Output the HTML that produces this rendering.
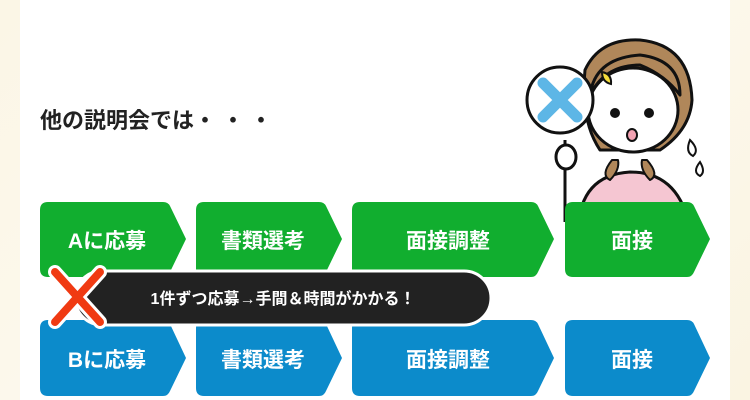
<!DOCTYPE html>
<html style="overflow:hidden;height:400px"><head><meta charset="utf-8"><style>
html,body{margin:0;width:750px;height:400px;overflow:hidden}
body{background:linear-gradient(135deg,#fbf6e6,#fdf9ee 50%,#faf4e2);font-family:"Liberation Sans","Noto Sans CJK JP",sans-serif;position:relative}
.card{position:absolute;left:20px;top:0;width:710px;height:400px;background:#fff}
svg{position:absolute;left:0;top:0}
</style></head><body>
<div class="card"></div>
<svg width="750" height="400" viewBox="0 0 750 400" font-family="Liberation Sans, Noto Sans CJK JP, sans-serif">
<text x="40" y="128" font-size="22" font-weight="bold" fill="#222">他の説明会では<tspan letter-spacing="6">・・・</tspan></text>
<g stroke="#111" stroke-width="3" stroke-linejoin="round">
<path d="M578 230 Q580 175 630 172 Q680 172 690 230Z" fill="#f5c6d2"/>
<path d="M585 70 Q600 38 640 40 Q690 45 692 100 Q690 130 660 150 L600 150 Q580 120 585 70Z" fill="#b0875a"/>
<ellipse cx="633" cy="110" rx="45" ry="42" fill="#fff"/>
<path d="M590 95 Q605 65 640 65 Q665 75 680 95 Q680 60 640 55 Q595 58 590 95Z" fill="#b0875a"/>
<path d="M612 160 Q600 175 610 180 Q620 170 618 160Z" fill="#b0875a" stroke-width="2"/>
<path d="M647 160 Q660 175 650 180 Q640 170 642 160Z" fill="#b0875a" stroke-width="2"/>
<line x1="565" y1="140" x2="565" y2="222"/>
<circle cx="560" cy="100" r="33" fill="#fff"/>
<ellipse cx="566" cy="157" rx="10" ry="12" fill="#fff"/>
</g>
<path d="M543 83 L577 117 M577 83 L543 117" stroke="#5db6e6" stroke-width="11" stroke-linecap="round"/>
<path d="M602 72 Q612 74 611 84 Q602 82 602 72Z" fill="#f4dc3b" stroke="#111" stroke-width="2"/>
<circle cx="615" cy="113" r="5" fill="#111"/><circle cx="649" cy="113" r="5" fill="#111"/>
<ellipse cx="632" cy="135" rx="5" ry="6" fill="#f4a3b3" stroke="#111" stroke-width="2"/>
<path d="M690 140 Q700 150 693 156 Q685 152 690 140Z M700 162 Q706 172 700 176 Q692 172 700 162Z" fill="#fff" stroke="#111" stroke-width="2"/>
<g fill="#11ae2f">
<path d="M48 202 H163 Q168 202 170 206 L186 239 L170 272 Q168 277 163 277 H48 Q40 277 40 269 V210 Q40 202 48 202Z"/>
<path d="M204 202 H319 Q324 202 326 206 L342 239 L326 272 Q324 277 319 277 H204 Q196 277 196 269 V210 Q196 202 204 202Z"/>
<path d="M360 202 H531 Q536 202 538 206 L554 239 L538 272 Q536 277 531 277 H360 Q352 277 352 269 V210 Q352 202 360 202Z"/>
<path d="M573 202 H687 Q692 202 694 206 L710 239 L694 272 Q692 277 687 277 H573 Q565 277 565 269 V210 Q565 202 573 202Z"/>
</g>
<g fill="#0c8bcb">
<path d="M48 320 H163 Q168 320 170 324 L186 358 L170 391 Q168 396 163 396 H48 Q40 396 40 388 V328 Q40 320 48 320Z"/>
<path d="M204 320 H319 Q324 320 326 324 L342 358 L326 391 Q324 396 319 396 H204 Q196 396 196 388 V328 Q196 320 204 320Z"/>
<path d="M360 320 H531 Q536 320 538 324 L554 358 L538 391 Q536 396 531 396 H360 Q352 396 352 388 V328 Q352 320 360 320Z"/>
<path d="M573 320 H687 Q692 320 694 324 L710 358 L694 391 Q692 396 687 396 H573 Q565 396 565 388 V328 Q565 320 573 320Z"/>
</g>
<g fill="#fff" font-size="21" font-weight="bold" text-anchor="middle">
<text x="107" y="248">Aに応募</text><text x="263" y="248">書類選考</text><text x="448" y="248">面接調整</text><text x="632" y="248">面接</text>
<text x="107" y="367">Bに応募</text><text x="263" y="367">書類選考</text><text x="448" y="367">面接調整</text><text x="632" y="367">面接</text>
</g>
<rect x="75" y="271" width="416" height="54" rx="27" fill="#222" stroke="#fff" stroke-width="3"/>
<text x="283" y="304" fill="#fff" font-size="16" font-weight="bold" text-anchor="middle">1件ずつ応募→手間＆時間がかかる！</text>
<path d="M55 272 L100 322 M100 272 L55 322" stroke="#fff" stroke-width="14" stroke-linecap="round"/>
<path d="M55 272 L100 322 M100 272 L55 322" stroke="#f03a12" stroke-width="8" stroke-linecap="round"/>
</svg>
</body></html>
